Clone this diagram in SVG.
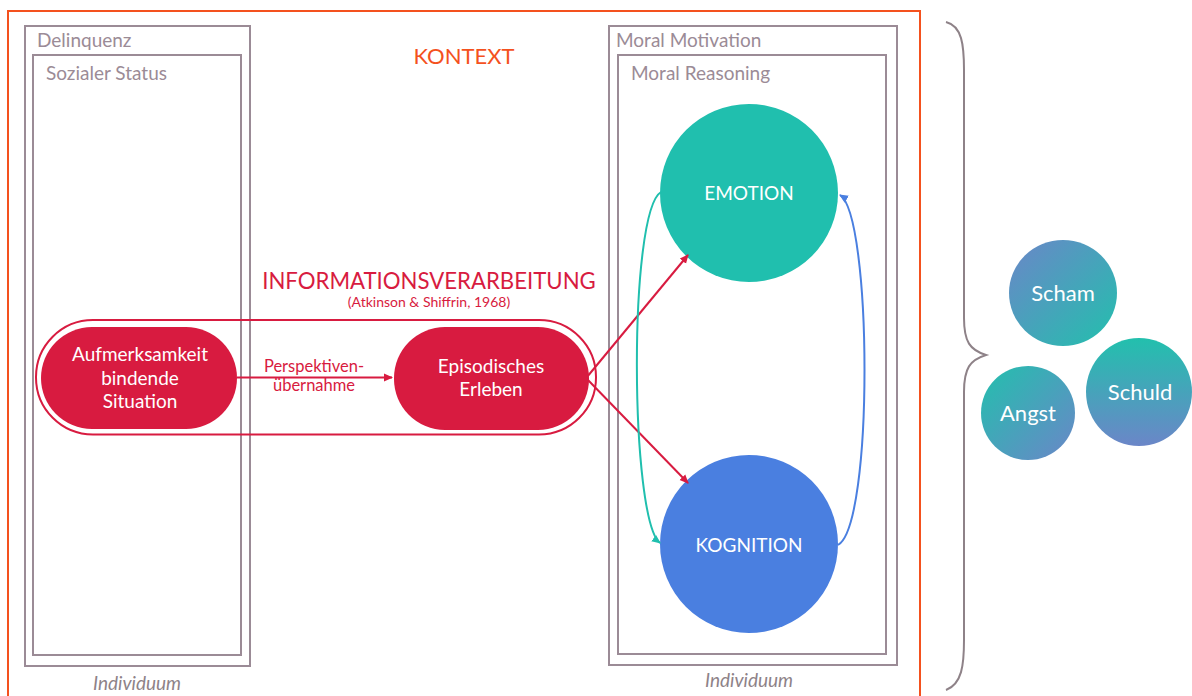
<svg xmlns="http://www.w3.org/2000/svg" width="1192" height="696" viewBox="0 0 1192 696">
<style>
  .box{fill:none;stroke:#9b8b96;stroke-width:2}
  .lbl{font-family:Lato,"Open Sans",sans-serif;font-size:19px;fill:#9b8b96}
  .ind{font-family:Lato,"Open Sans",sans-serif;font-size:19px;fill:#8e8288;font-style:italic;text-anchor:middle}
  .wt{font-family:Lato,"Open Sans",sans-serif;fill:#fff;text-anchor:middle}
  .red{fill:#d81b40}
  .rt{font-family:Lato,"Open Sans",sans-serif;fill:#d81b40}
</style>
<defs>
  <marker id="ar" markerWidth="10" markerHeight="10" refX="8" refY="5" orient="auto" markerUnits="userSpaceOnUse">
    <path d="M0,1 L9,5 L0,9 Z" fill="#d81b40"/>
  </marker>
  <marker id="at" markerWidth="10" markerHeight="10" refX="8" refY="5" orient="auto" markerUnits="userSpaceOnUse">
    <path d="M0,1 L9,5 L0,9 Z" fill="#20bfae"/>
  </marker>
  <marker id="ab" markerWidth="10" markerHeight="10" refX="8" refY="5" orient="auto" markerUnits="userSpaceOnUse">
    <path d="M0,1 L9,5 L0,9 Z" fill="#4a7fe0"/>
  </marker>
  <linearGradient id="gScham" x1="0" y1="0" x2="1" y2="1">
    <stop offset="0" stop-color="#6b86c8"/><stop offset="1" stop-color="#22c0ad"/>
  </linearGradient>
  <linearGradient id="gAngst" x1="0" y1="0" x2="1" y2="1">
    <stop offset="0" stop-color="#22c0ad"/><stop offset="1" stop-color="#6b86c8"/>
  </linearGradient>
  <linearGradient id="gSchuld" x1="0" y1="0" x2="0" y2="1">
    <stop offset="0" stop-color="#22c0ad"/><stop offset="1" stop-color="#6b86c8"/>
  </linearGradient>
</defs>
<rect width="1192" height="696" fill="#fff"/>

<g id="kontext">
  <rect x="8" y="11" width="912" height="700" fill="none" stroke="#f4511e" stroke-width="2"/>
  <text x="464" y="64" font-family="Lato,'Open Sans',sans-serif" font-size="22" fill="#f4511e" text-anchor="middle">KONTEXT</text>
</g>

<g id="delinquenz">
  <rect class="box" x="25" y="26" width="225" height="640"/>
  <text class="lbl" x="37" y="47">Delinquenz</text>
  <rect class="box" x="33" y="55" width="208" height="600"/>
  <text class="lbl" x="46" y="80">Sozialer Status</text>
  <text class="ind" x="137" y="690">Individuum</text>
</g>

<g id="moral">
  <rect class="box" x="609" y="26" width="288" height="639"/>
  <text class="lbl" x="616" y="47">Moral Motivation</text>
  <rect class="box" x="618" y="55" width="268" height="599"/>
  <text class="lbl" x="631" y="80">Moral Reasoning</text>
  <text class="ind" x="749" y="687">Individuum</text>
</g>

<g id="informationsverarbeitung">
  <text class="rt" x="429" y="289" font-size="22.2" text-anchor="middle">INFORMATIONSVERARBEITUNG</text>
  <text class="rt" x="429" y="307" font-size="14" text-anchor="middle">(Atkinson &amp; Shiffrin, 1968)</text>
  <rect x="36" y="320" width="560" height="114.5" rx="57" fill="none" stroke="#d81b40" stroke-width="2"/>
</g>

<g id="aufmerksamkeit">
  <rect class="red" x="41" y="327" width="196" height="102" rx="51"/>
  <text class="wt" x="140" y="361" font-size="19">Aufmerksamkeit</text>
  <text class="wt" x="140" y="385" font-size="19">bindende</text>
  <text class="wt" x="140" y="408" font-size="19">Situation</text>
</g>

<g id="episodisch">
  <rect class="red" x="394" y="327" width="195" height="103" rx="51"/>
  <text class="wt" x="491" y="373" font-size="19">Episodisches</text>
  <text class="wt" x="491" y="396" font-size="19">Erleben</text>
</g>

<g id="emotion">
  <circle cx="749" cy="193" r="89" fill="#20bfae"/>
  <text class="wt" x="749" y="200" font-size="19">EMOTION</text>
</g>

<g id="kognition">
  <circle cx="749" cy="544" r="89" fill="#4a7fe0"/>
  <text class="wt" x="749" y="552" font-size="19">KOGNITION</text>
</g>

<g id="connectors" fill="none">
  <line x1="237" y1="377.5" x2="392" y2="377.5" stroke="#d81b40" stroke-width="2" marker-end="url(#ar)"/>
  <text class="rt" x="314" y="372" font-size="16.5" stroke="none" text-anchor="middle">Perspektiven-</text>
  <text class="rt" x="314" y="391" font-size="16.5" stroke="none" text-anchor="middle">übernahme</text>
  <line x1="587" y1="377" x2="688" y2="255" stroke="#d81b40" stroke-width="2" marker-end="url(#ar)"/>
  <line x1="587" y1="379" x2="688" y2="483" stroke="#d81b40" stroke-width="2" marker-end="url(#ar)"/>
  <path d="M661,192 C628,212 630,520 660,543" stroke="#20bfae" stroke-width="2" marker-end="url(#at)"/>
  <path d="M838,545 C874,525 872,215 840,195" stroke="#4a7fe0" stroke-width="2" marker-end="url(#ab)"/>
</g>

<g id="brace">
  <path d="M946,22 C962,26 964,45 964,70 L964,318 C964,342 970,350 986,355 C970,360 964,368 964,392 L964,640 C964,665 962,684 946,690" fill="none" stroke="#8e8288" stroke-width="2"/>
</g>

<g id="scham">
  <ellipse cx="1063" cy="293" rx="54" ry="53" fill="url(#gScham)"/>
  <text class="wt" x="1063" y="301" font-size="22">Scham</text>
</g>
<g id="angst">
  <ellipse cx="1028" cy="413" rx="47" ry="47" fill="url(#gAngst)"/>
  <text class="wt" x="1028" y="421" font-size="22">Angst</text>
</g>
<g id="schuld">
  <ellipse cx="1139" cy="392" rx="53" ry="54" fill="url(#gSchuld)"/>
  <text class="wt" x="1140" y="400" font-size="22">Schuld</text>
</g>
</svg>
